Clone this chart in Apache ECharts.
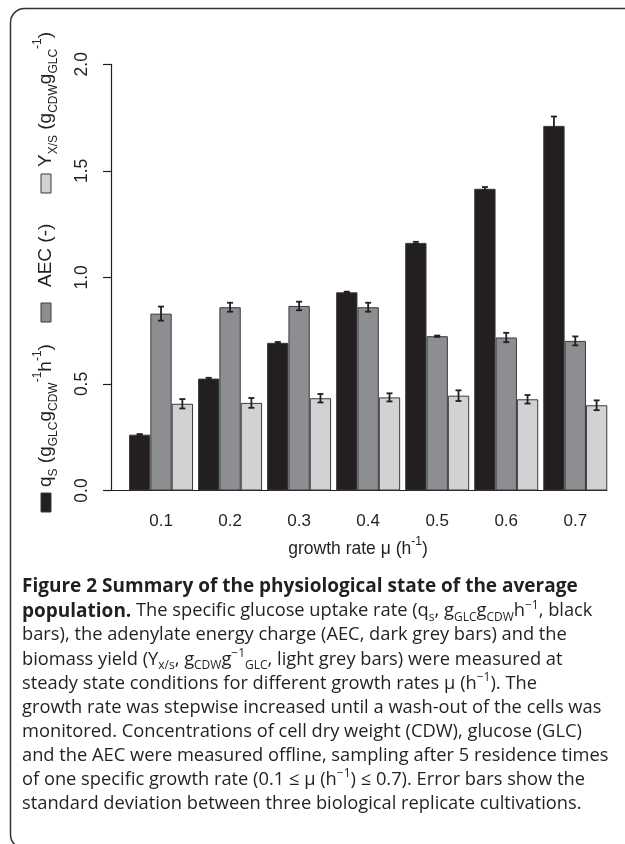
<!DOCTYPE html>
<html><head><meta charset="utf-8">
<script src="https://cdn.jsdelivr.net/npm/echarts@6/dist/echarts.min.js"></script>
<style>html,body{margin:0;padding:0;background:#fff;}#c{width:625px;height:844px;}</style>
</head><body><div id="c"></div>
<script>
// ---- data ----
const categories = ['0.1', '0.2', '0.3', '0.4', '0.5', '0.6', '0.7'];
const qsValues  = [0.262, 0.525, 0.693, 0.930, 1.162, 1.416, 1.711];
const qsErrors  = [0.003, 0.004, 0.004, 0.003, 0.005, 0.008, 0.044];
const aecValues = [0.830, 0.860, 0.866, 0.860, 0.724, 0.718, 0.702];
const aecErrors = [0.033, 0.021, 0.020, 0.021, 0.003, 0.022, 0.021];
const yxsValues = [0.407, 0.411, 0.433, 0.437, 0.445, 0.428, 0.400];
const yxsErrors = [0.022, 0.023, 0.020, 0.019, 0.025, 0.020, 0.023];
const yTicks = [0.0, 0.5, 1.0, 1.5, 2.0];
const seriesNames = ['qS', 'AEC', 'YXS'];
const seriesColors = ['#231f20', '#8d8e92', '#d1d2d4'];

const valuesList = [qsValues, aecValues, yxsValues];
const errorsList = [qsErrors, aecErrors, yxsErrors];

const CAT_GAP = 0.073;
const FONT = '"Liberation Sans", Arial, sans-serif';
const CAP_FONT = '"Open Sans", sans-serif';

const chart = echarts.init(document.getElementById('c'), null, {renderer: 'canvas'});

const barSeries = valuesList.map((vals, k) => ({
  type: 'bar',
  name: seriesNames[k],
  data: vals,
  barGap: '0%',
  barCategoryGap: (CAT_GAP * 100) + '%',
  itemStyle: {color: seriesColors[k], borderColor: '#3a3a3a', borderWidth: 1},
  emphasis: {disabled: true},
  z: 2
}));

const errSeries = errorsList.map((errs, k) => ({
  type: 'custom',
  name: seriesNames[k] + ' sd',
  data: categories.map((c, i) => [i, valuesList[k][i], errs[i]]),
  encode: {x: 0, y: 1},
  z: 5,
  renderItem: function (params, api) {
    const i = api.value(0), v = api.value(1), e = api.value(2);
    const band = api.size([1, 0])[0];
    const bw = band * (1 - CAT_GAP) / 3;
    const c = api.coord([i, v]);
    const x = c[0] + (k - 1) * bw;
    const yt = api.coord([i, v + e])[1];
    const yb = api.coord([i, v - e])[1];
    const hw = 3;
    const st = {stroke: '#231f20', lineWidth: 1.8};
    return {type: 'group', children: [
      {type: 'line', shape: {x1: x, y1: yt, x2: x, y2: yb}, style: st},
      {type: 'line', shape: {x1: x - hw, y1: yt, x2: x + hw, y2: yt}, style: st},
      {type: 'line', shape: {x1: x - hw, y1: yb, x2: x + hw, y2: yb}, style: st}
    ]};
  }
}));

const legendRich = {
  sub: {fontSize: 12, fontFamily: FONT, lineHeight: 16, verticalAlign: 'bottom', fill: '#231f20'},
  sup: {fontSize: 12, fontFamily: FONT, lineHeight: 16, verticalAlign: 'top', fill: '#231f20'}
};
const legendTexts = [
  'q{sub|S} (g{sub|GLC}g{sub|CDW}{sup|-1}h{sup|-1})',
  'AEC (-)',
  'Y{sub|X/S} (g{sub|CDW}g{sub|GLC}{sup|-1})'
];
// positions along the rotated legend column (px upward from base)
const legendBoxPos = [0, 190, 319];
const legendTextPos = [25, 225, 345];

const legendChildren = [];
for (let k = 0; k < 3; k++) {
  legendChildren.push({type: 'rect', shape: {x: legendBoxPos[k], y: -5, width: 19, height: 10},
    style: {fill: seriesColors[k], stroke: '#3a3a3a', lineWidth: 1}});
  legendChildren.push({type: 'text', x: legendTextPos[k], y: 0,
    style: {text: legendTexts[k], rich: legendRich, font: '19px ' + FONT, fill: '#231f20',
      verticalAlign: 'middle', align: 'left', lineHeight: 28}});
}

const capRich = {
  b: {fontFamily: CAP_FONT, fontWeight: 'bold', fontSize: 19, lineHeight: 24.1, fill: '#231f20'},
  s: {fontFamily: CAP_FONT, fontSize: 12, lineHeight: 15, verticalAlign: 'bottom', fill: '#231f20'},
  p: {fontFamily: CAP_FONT, fontSize: 12, lineHeight: 15, verticalAlign: 'top', fill: '#231f20'}
};
const captionLines = [
  '{b|Figure 2 Summary of the physiological state of the average}',
  '{b|population.} The specific glucose uptake rate (q{s|s}, g{s|GLC}g{s|CDW}h{p|\u22121}, black',
  'bars), the adenylate energy charge (AEC, dark grey bars) and the',
  'biomass yield (Y{s|x/s}, g{s|CDW}g{p|\u22121}{s|GLC}, light grey bars) were measured at',
  'steady state conditions for different growth rates \u03bc (h{p|\u22121}). The',
  'growth rate was stepwise increased until a wash-out of the cells was',
  'monitored. Concentrations of cell dry weight (CDW), glucose (GLC)',
  'and the AEC were measured offline, sampling after 5 residence times',
  'of one specific growth rate (0.1 \u2264 \u03bc (h{p|\u22121}) \u2264 0.7). Error bars show the',
  'standard deviation between three biological replicate cultivations.'
];

const option = {
  animation: false,
  backgroundColor: '#ffffff',
  grid: {left: 126.5, right: 15.2, top: 64.3, bottom: 353.5, containLabel: false},
  xAxis: {
    type: 'category', data: categories,
    axisLine: {show: false}, axisTick: {show: false},
    axisLabel: {fontSize: 17, fontFamily: FONT, color: '#231f20', margin: 22}
  },
  yAxis: {
    type: 'value', min: yTicks[0], max: yTicks[yTicks.length - 1], interval: 0.5,
    offset: 15.5,
    axisLine: {show: true, lineStyle: {color: '#231f20', width: 1.2}},
    axisTick: {show: true, length: 8, lineStyle: {color: '#231f20', width: 1.2}},
    splitLine: {show: false},
    axisLabel: {rotate: 90, margin: 20, fontSize: 17.5, fontFamily: FONT, color: '#231f20',
      formatter: v => v.toFixed(1)}
  },
  series: barSeries.concat(errSeries),
  graphic: [
    {type: 'rect', z: -10, shape: {x: 10.5, y: 8.5, width: 700, height: 840, r: 14},
      style: {fill: 'none', stroke: '#333', lineWidth: 1.5}},
    {type: 'group', x: 46, y: 512, rotation: Math.PI / 2, children: legendChildren},
    {type: 'text', x: 358, y: 549, style: {text: 'growth rate \u03bc (h{sup|-1})', rich: legendRich,
      font: '17.5px ' + FONT, fill: '#231f20', align: 'center', verticalAlign: 'middle', lineHeight: 26}},
    {type: 'text', x: 22, y: 575, style: {text: captionLines.join('\n'), rich: capRich,
      font: '18.3px ' + CAP_FONT, fill: '#231f20', lineHeight: 24.1, align: 'left', verticalAlign: 'top'}}
  ]
};
chart.setOption(option);

// x baseline: from the y-axis position to the end of the last bar group
const rect = chart.getModel().getComponent('grid').coordinateSystem.getRect();
const band = rect.width / categories.length;
const lastCenter = chart.convertToPixel({xAxisIndex: 0}, categories.length - 1);
const xEnd = lastCenter + band * (1 - CAT_GAP) / 2;
const yBase = chart.convertToPixel({yAxisIndex: 0}, 0);
const xStart = rect.x - 15.5;
option.graphic.push({type: 'line', z: 1, shape: {x1: xStart, y1: yBase, x2: xEnd, y2: yBase},
  style: {stroke: '#231f20', lineWidth: 1.2}});
chart.setOption({graphic: option.graphic});
</script>
</body></html>
